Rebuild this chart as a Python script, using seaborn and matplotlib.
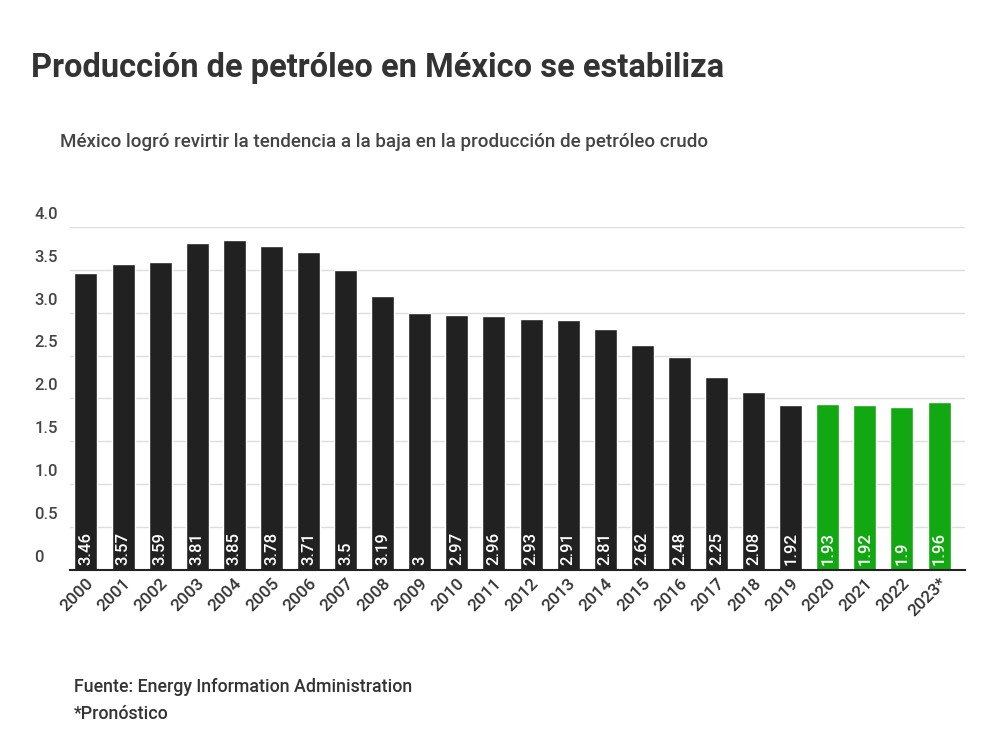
import matplotlib
matplotlib.use("Agg")
import matplotlib.pyplot as plt
import seaborn as sns
import pandas as pd

# 数据
years = ["2000", "2001", "2002", "2003", "2004", "2005", "2006", "2007", "2008", "2009",
         "2010", "2011", "2012", "2013", "2014", "2015", "2016", "2017", "2018", "2019",
         "2020", "2021", "2022", "2023*"]
values = [3.46, 3.57, 3.59, 3.81, 3.85, 3.78, 3.71, 3.5, 3.19, 3, 2.97, 2.96, 2.93, 2.91,
          2.81, 2.62, 2.48, 2.25, 2.08, 1.92, 1.93, 1.92, 1.9, 1.96]
labels = ["3.46", "3.57", "3.59", "3.81", "3.85", "3.78", "3.71", "3.5", "3.19", "3", "2.97",
          "2.96", "2.93", "2.91", "2.81", "2.62", "2.48", "2.25", "2.08", "1.92", "1.93",
          "1.92", "1.9", "1.96"]
y_ticks = [0, 0.5, 1.0, 1.5, 2.0, 2.5, 3.0, 3.5, 4.0]
y_tick_labels = ["0", "0.5", "1.0", "1.5", "2.0", "2.5", "3.0", "3.5", "4.0"]

df = pd.DataFrame({"year": years, "value": values})
colors = ["#212121"] * 20 + ["#12a812"] * 4

sns.set_theme(style="white")
plt.rcParams["font.family"] = ["Roboto", "DejaVu Sans"]

fig = plt.figure(figsize=(10, 7.54), dpi=100)
ax = fig.add_axes([0.07, 0.244, 0.895, 0.455])
sns.barplot(data=df, x="year", y="value", hue="year", palette=colors, legend=False,
            width=0.62, ax=ax, saturation=1)

ax.set_ylim(0, 4.0)
ax.set_xlim(-0.43, 23.7)
ax.set_yticks(y_ticks)
ax.set_yticklabels([])
ax.tick_params(axis="y", length=0)
ax.grid(axis="y", color="#dddddd", linewidth=1)
ax.set_axisbelow(True)
for s in ["top", "right", "left"]:
    ax.spines[s].set_visible(False)
ax.spines["bottom"].set_color("#222222")
ax.spines["bottom"].set_linewidth(1.5)

# y轴标签放在网格线上方
for v, t in zip(y_ticks, y_tick_labels):
    ax.text(-0.04, v + 0.06, t, transform=ax.get_yaxis_transform(), ha="left",
            va="bottom", fontsize=12, color="#444444", fontweight="medium")

ax.set_xlabel("")
ax.set_ylabel("")
ax.set_xticks(range(len(years)))
ax.set_xticklabels(years, rotation=45, ha="right", rotation_mode="anchor",
                   fontsize=12.5, color="#333333", fontweight="medium")
ax.tick_params(axis="x", length=0, pad=4)

# 柱内数值标签
for i, t in enumerate(labels):
    ax.text(i, 0.06, t, rotation=90, ha="center", va="bottom", color="white",
            fontsize=12, fontweight="medium")

fig.text(0.031, 0.91, "Producción de petróleo en México se estabiliza", fontsize=23.5,
         fontweight="bold", color="#333333", va="center")
fig.text(0.06, 0.812, "México logró revirtir la tendencia a la baja en la producción de petróleo crudo",
         fontsize=13.5, color="#444444", va="center", fontweight="medium")
fig.text(0.074, 0.089, "Fuente: Energy Information Administration", fontsize=12.8,
         color="#333333", va="center", fontweight="medium")
fig.text(0.074, 0.053, "*Pronóstico", fontsize=12.8, color="#333333", va="center",
         fontweight="medium")

fig.savefig("out.png", dpi=100, facecolor="white")
